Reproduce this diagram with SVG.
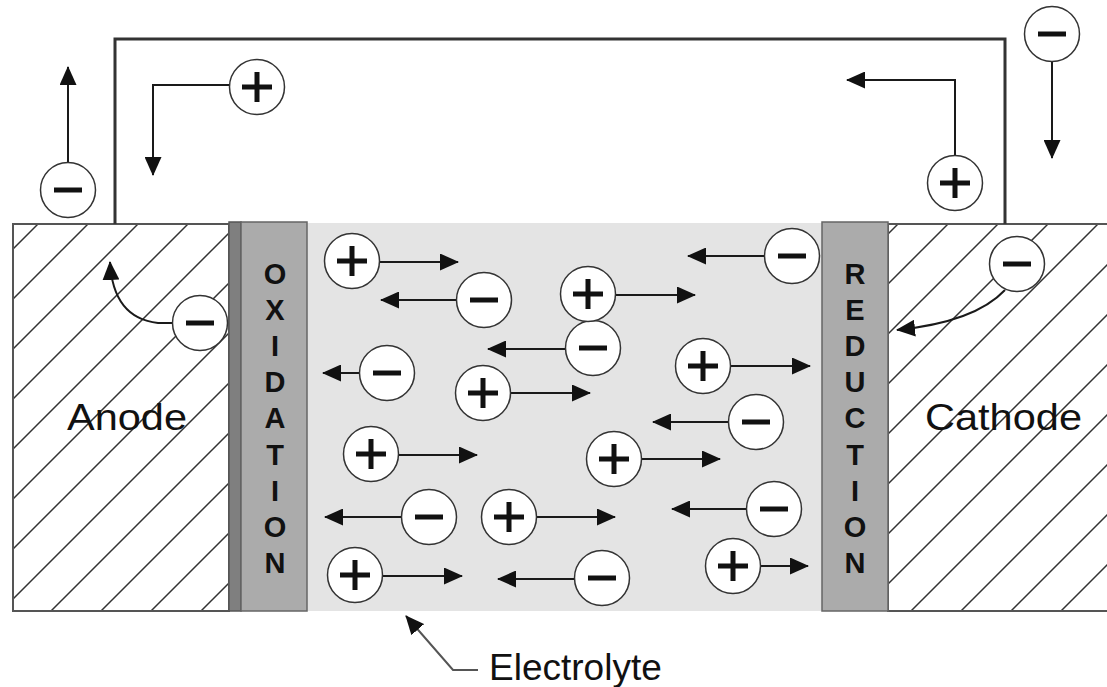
<svg xmlns="http://www.w3.org/2000/svg" xmlns:xlink="http://www.w3.org/1999/xlink" width="1107" height="687" viewBox="0 0 1107 687">
<style>
.wire{fill:none;stroke:#333;stroke-width:3}
.arr{fill:none;stroke:#1a1a1a;stroke-width:2;marker-end:url(#ah)}
.lead{fill:none;stroke:#555;stroke-width:2;marker-end:url(#ah)}
.ion{fill:#fff;stroke:#333;stroke-width:1.5}
.sign{stroke:#111;stroke-width:5;fill:none}
.elec{stroke:#555;stroke-width:2}
.lbl{font-family:"Liberation Sans",Arial,sans-serif;fill:#111}
.vert{font-family:"Liberation Sans",Arial,sans-serif;font-weight:bold;font-size:29px;fill:#111;text-anchor:middle}
</style>
<defs>
<marker id="ah" markerUnits="userSpaceOnUse" markerWidth="19" markerHeight="17" refX="18" refY="8.5" orient="auto">
<path d="M0,0 L19,8.5 L0,17 Z" fill="#111"/>
</marker>
<pattern id="hatchA" patternUnits="userSpaceOnUse" width="50" height="50" patternTransform="translate(12,0)">
<path d="M-5,5 L5,-5 M0,50 L50,0 M45,55 L55,45" stroke="#333" stroke-width="1.5"/>
</pattern>
<pattern id="hatchC" patternUnits="userSpaceOnUse" width="50" height="50" patternTransform="translate(22,0)">
<path d="M-5,5 L5,-5 M0,50 L50,0 M45,55 L55,45" stroke="#333" stroke-width="1.5"/>
</pattern>
<g id="pos"><circle class="ion" r="27.5"/><path class="sign" d="M-15,0 H15 M0,-15 V15"/></g>
<g id="neg"><circle class="ion" r="27.5"/><path class="sign" d="M-14,0 H14"/></g>
</defs>
<rect width="1107" height="687" fill="#fff"/>

<g id="electrolyte">
<rect x="307" y="223" width="515" height="388" fill="#e4e4e4"/>
</g>
<g id="anode">
<rect x="13" y="224" width="216" height="387" fill="url(#hatchA)" class="elec"/>
<text class="lbl" x="67" y="430" font-size="36" textLength="120" lengthAdjust="spacingAndGlyphs">Anode</text>
</g>
<g id="cathode">
<rect x="888" y="224" width="225" height="387" fill="url(#hatchC)" class="elec"/>
<text class="lbl" x="925" y="430" font-size="36" textLength="157" lengthAdjust="spacingAndGlyphs">Cathode</text>
</g>
<g id="oxidation">
<rect x="229" y="222" width="12" height="389" fill="#7f7f7f" stroke="#555" stroke-width="1.5"/>
<rect x="241" y="222" width="66" height="389" fill="#ababab" stroke="#666" stroke-width="1.5"/>
<text class="vert" x="275"><tspan x="275" y="284">O</tspan><tspan x="275" y="320">X</tspan><tspan x="275" y="356">I</tspan><tspan x="275" y="392">D</tspan><tspan x="275" y="428">A</tspan><tspan x="275" y="465">T</tspan><tspan x="275" y="501">I</tspan><tspan x="275" y="537">O</tspan><tspan x="275" y="573">N</tspan></text>
</g>
<g id="reduction">
<rect x="822" y="222" width="66" height="389" fill="#ababab" stroke="#666" stroke-width="1.5"/>
<text class="vert" x="855"><tspan x="855" y="284">R</tspan><tspan x="855" y="320">E</tspan><tspan x="855" y="356">D</tspan><tspan x="855" y="392">U</tspan><tspan x="855" y="428">C</tspan><tspan x="855" y="465">T</tspan><tspan x="855" y="501">I</tspan><tspan x="855" y="537">O</tspan><tspan x="855" y="573">N</tspan></text>
</g>
<g id="electrolyte-label">
<text class="lbl" x="489" y="680" font-size="37">Electrolyte</text>
</g>

<g id="connectors">
<path class="wire" d="M115,224 V39 H1005 V224"/>
<path class="arr" d="M68,162 V67"/>
<path class="arr" d="M229,85 H153 V175"/>
<path class="arr" d="M955,155 V80 H847"/>
<path class="arr" d="M1052,62 V158"/>
<path class="arr" d="M380,262 H458"/>
<path class="arr" d="M456,300 H381"/>
<path class="arr" d="M359,373 H323"/>
<path class="arr" d="M511,393 H590"/>
<path class="arr" d="M565,349 H488"/>
<path class="arr" d="M616,295 H695"/>
<path class="arr" d="M764,256 H688"/>
<path class="arr" d="M731,366 H810"/>
<path class="arr" d="M728,422 H653"/>
<path class="arr" d="M399,455 H477"/>
<path class="arr" d="M642,459 H720"/>
<path class="arr" d="M401,517 H325"/>
<path class="arr" d="M537,517 H615"/>
<path class="arr" d="M746,509 H672"/>
<path class="arr" d="M383,576 H462"/>
<path class="arr" d="M574,579 H498"/>
<path class="arr" d="M761,566 H808"/>
<path class="arr" d="M173,323 H158 Q113,318 110,262"/>
<path class="arr" d="M1005,290 Q975,322 897,330"/>
<path class="lead" d="M478,670 H453 L406,616"/>
</g>

<g id="ion-top-1"><use xlink:href="#neg" x="68" y="190"/></g>
<g id="ion-top-2"><use xlink:href="#pos" x="257" y="87"/></g>
<g id="ion-top-3"><use xlink:href="#pos" x="955" y="183"/></g>
<g id="ion-top-4"><use xlink:href="#neg" x="1052" y="34"/></g>
<g id="ion-anode"><use xlink:href="#neg" x="200" y="323"/></g>
<g id="ion-cathode"><use xlink:href="#neg" x="1017" y="264"/></g>
<g id="ion-1"><use xlink:href="#pos" x="352" y="261"/></g>
<g id="ion-2"><use xlink:href="#neg" x="484" y="300"/></g>
<g id="ion-3"><use xlink:href="#neg" x="387" y="373"/></g>
<g id="ion-4"><use xlink:href="#pos" x="483" y="393"/></g>
<g id="ion-5"><use xlink:href="#neg" x="593" y="348"/></g>
<g id="ion-6"><use xlink:href="#pos" x="588" y="294"/></g>
<g id="ion-7"><use xlink:href="#neg" x="792" y="256"/></g>
<g id="ion-8"><use xlink:href="#pos" x="703" y="366"/></g>
<g id="ion-9"><use xlink:href="#neg" x="756" y="422"/></g>
<g id="ion-10"><use xlink:href="#pos" x="371" y="454"/></g>
<g id="ion-11"><use xlink:href="#pos" x="614" y="459"/></g>
<g id="ion-12"><use xlink:href="#neg" x="429" y="517"/></g>
<g id="ion-13"><use xlink:href="#pos" x="509" y="517"/></g>
<g id="ion-14"><use xlink:href="#neg" x="774" y="509"/></g>
<g id="ion-15"><use xlink:href="#pos" x="355" y="575"/></g>
<g id="ion-16"><use xlink:href="#neg" x="602" y="578"/></g>
<g id="ion-17"><use xlink:href="#pos" x="733" y="566"/></g>
</svg>
